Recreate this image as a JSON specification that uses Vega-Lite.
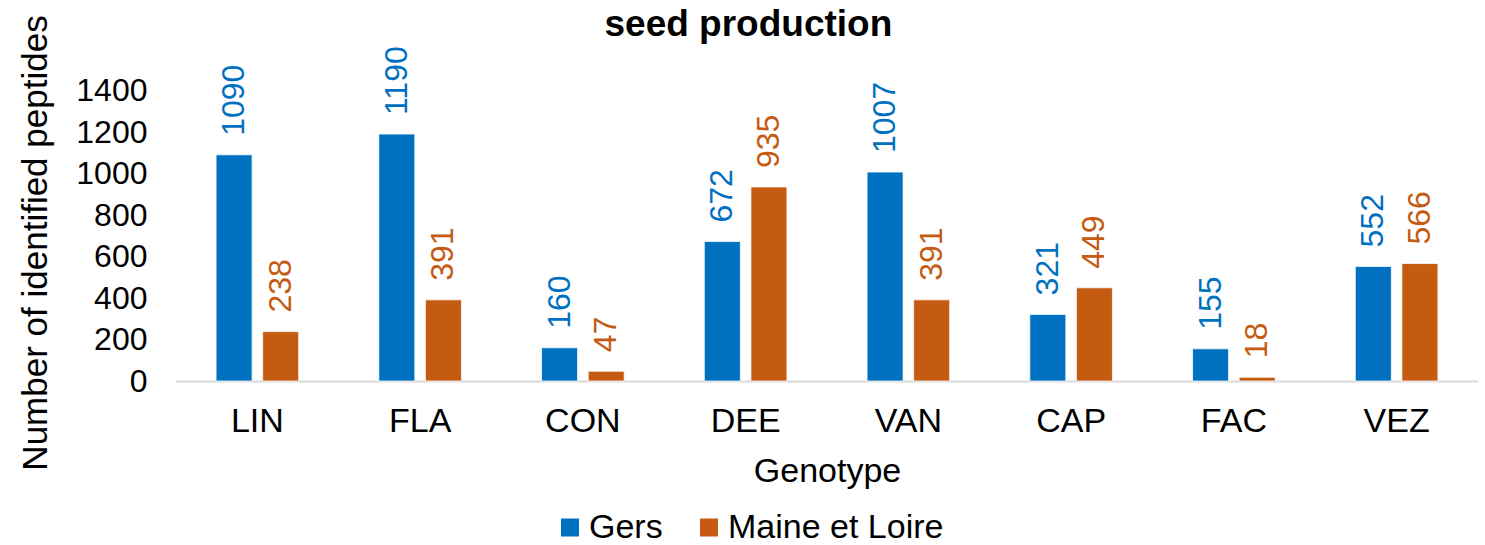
{
  "$schema": "https://vega.github.io/schema/vega-lite/v6.json",
  "width": 1302,
  "height": 290.5,
  "autosize": {"type": "none"},
  "padding": {"left": 176, "top": 90.5, "right": 7, "bottom": 164},
  "background": "white",
  "config": {
    "font": "Liberation Sans",
    "view": {"stroke": null},
    "axis": {"labelColor": "black", "titleColor": "black", "titleFontWeight": "normal"}
  },
  "title": {
    "text": "seed production",
    "fontSize": 37,
    "fontWeight": "bold",
    "color": "black",
    "anchor": "middle",
    "frame": "bounds",
    "offset": -29
  },
  "data": {
    "values": [
      {"genotype": "LIN", "site": "Gers", "value": 1090},
      {"genotype": "LIN", "site": "Maine et Loire", "value": 238},
      {"genotype": "FLA", "site": "Gers", "value": 1190},
      {"genotype": "FLA", "site": "Maine et Loire", "value": 391},
      {"genotype": "CON", "site": "Gers", "value": 160},
      {"genotype": "CON", "site": "Maine et Loire", "value": 47},
      {"genotype": "DEE", "site": "Gers", "value": 672},
      {"genotype": "DEE", "site": "Maine et Loire", "value": 935},
      {"genotype": "VAN", "site": "Gers", "value": 1007},
      {"genotype": "VAN", "site": "Maine et Loire", "value": 391},
      {"genotype": "CAP", "site": "Gers", "value": 321},
      {"genotype": "CAP", "site": "Maine et Loire", "value": 449},
      {"genotype": "FAC", "site": "Gers", "value": 155},
      {"genotype": "FAC", "site": "Maine et Loire", "value": 18},
      {"genotype": "VEZ", "site": "Gers", "value": 552},
      {"genotype": "VEZ", "site": "Maine et Loire", "value": 566}
    ]
  },
  "encoding": {
    "x": {
      "field": "genotype",
      "type": "nominal",
      "sort": null,
      "title": "Genotype",
      "scale": {"paddingInner": 0, "paddingOuter": 0},
      "axis": {
        "labelAngle": 0,
        "labelFontSize": 34,
        "labelPadding": 23,
        "ticks": false,
        "tickSize": 0,
        "domainColor": "#D9D9D9",
        "domainWidth": 2,
        "titleFontSize": 34,
        "titlePadding": 16
      }
    },
    "xOffset": {
      "field": "site",
      "type": "nominal",
      "sort": ["Gers", "Maine et Loire"],
      "scale": {"paddingInner": 0.227, "paddingOuter": 0.86}
    },
    "y": {
      "field": "value",
      "type": "quantitative",
      "title": "Number of identified peptides",
      "scale": {"domain": [0, 1400]},
      "axis": {
        "values": [0, 200, 400, 600, 800, 1000, 1200, 1400],
        "format": "d",
        "labelFontSize": 32,
        "labelPadding": 29,
        "ticks": false,
        "tickSize": 0,
        "domain": false,
        "grid": false,
        "titleFontSize": 35,
        "titlePadding": 22,
        "titleY": 152
      }
    },
    "color": {
      "field": "site",
      "type": "nominal",
      "scale": {"domain": ["Gers", "Maine et Loire"], "range": ["#0070C0", "#C55A11"]},
      "legend": {
        "title": null,
        "orient": "none",
        "direction": "horizontal",
        "legendX": 377,
        "legendY": 420,
        "symbolType": "square",
        "symbolSize": 324,
        "symbolStrokeWidth": 0,
        "labelFontSize": 34,
        "labelColor": "black",
        "labelOffset": 2,
        "labelLimit": 0,
        "columnPadding": 29
      }
    }
  },
  "layer": [
    {
      "mark": {"type": "bar", "stroke": "white", "strokeWidth": 0.75}
    },
    {
      "mark": {"type": "text", "angle": 270, "align": "left", "baseline": "middle", "dx": 19, "fontSize": 32},
      "encoding": {"text": {"field": "value", "type": "quantitative"}}
    }
  ]
}
